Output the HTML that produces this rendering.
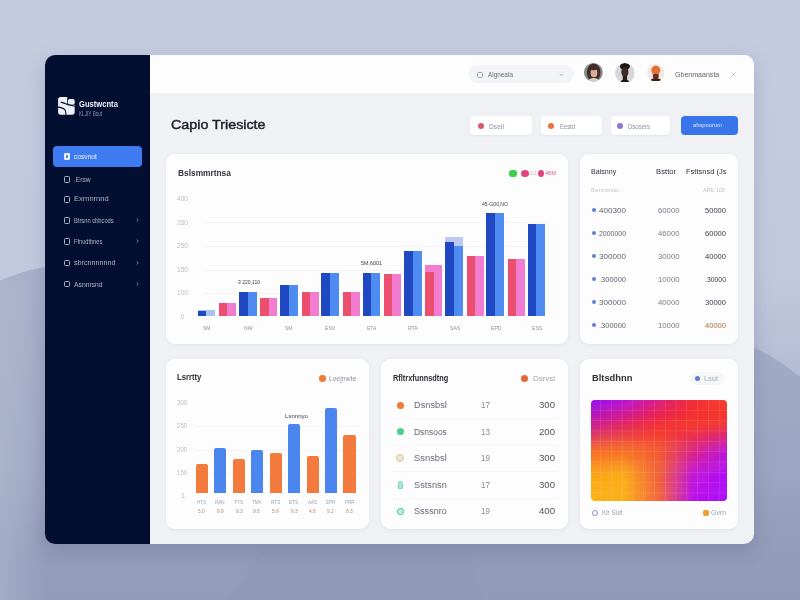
<!DOCTYPE html><html><head><meta charset="utf-8"><style>
*{margin:0;padding:0;box-sizing:border-box}
html,body{width:800px;height:600px;overflow:hidden}
body{font-family:"Liberation Sans",sans-serif;position:relative;background:#c6cce0}
.abs{position:absolute}
.bg{position:absolute;left:0;top:0;width:800px;height:600px;overflow:hidden;
 background:linear-gradient(180deg,#c5cce0 0%,#c3cadf 45%,#aab2cb 75%,#939dba 92%,#909ab7 100%)}
.blobL{position:absolute;left:-120px;top:264px;width:400px;height:400px;border-radius:50%;background:linear-gradient(180deg,#a8b0ca 0%,#a0a9c4 50%,#99a2be 100%)}
.blobR{position:absolute;left:470px;top:329px;width:400px;height:400px;border-radius:50%;background:linear-gradient(180deg,#a2abc6 0%,#9aa3bf 50%,#929cb9 100%)}
.shadow{position:absolute;left:45px;top:55px;width:709px;height:489px;border-radius:10px;box-shadow:0 6px 20px rgba(60,70,110,.22)}
.side{position:absolute;left:45px;top:55px;width:106px;height:489px;background:#030f30;border-radius:10px 0 0 10px}
.main{position:absolute;left:150px;top:55px;width:604px;height:489px;background:#eff1f5;border-radius:0 10px 10px 0;overflow:hidden}
.hdr{position:absolute;left:0;top:0;width:604px;height:38px;background:#fdfdfd}
.card{position:absolute;background:#fdfdfe;border-radius:9px;box-shadow:0 1px 4px rgba(120,130,160,.10)}
.t{position:absolute;white-space:nowrap;line-height:1;transform-origin:0 0}
.mi{position:absolute;left:64px;width:6px;height:6.5px;border:1px solid #c0c7d9;border-radius:1.5px}
.bar{position:absolute}
.dot{position:absolute;border-radius:50%}
</style></head><body>
<div class="bg"><div class="blobL"></div><div class="blobR"></div><div class="abs" style="left:0;top:0;width:800px;height:600px;background:linear-gradient(180deg,rgba(144,154,183,0) 0px,rgba(144,154,183,0) 470px,rgba(144,154,183,.75) 555px,rgba(144,154,183,.8) 600px)"></div><div class="abs" style="left:0;top:280px;width:60px;height:320px;background:linear-gradient(90deg,rgba(178,186,210,.55) 0px,rgba(178,186,210,0) 45px)"></div></div>
<div class="shadow"></div>
<div class="side"></div>
<svg class="abs" style="left:56px;top:95px" width="21" height="22" viewBox="56 95 21 22">
<rect x="58.1" y="97.1" width="16.6" height="17.6" rx="2.6" fill="#eef0f7"/>
<rect x="67.2" y="96" width="9" height="8.7" fill="#030f30"/>
<rect x="67.9" y="98.9" width="6.8" height="5.6" rx="1.8" fill="#eef0f7"/>
<path d="M60.8 102.1 Q64 103 67.5 104.6 L75.2 106.2" stroke="#030f30" stroke-width="1.1" fill="none"/>
<path d="M57.5 107.1 Q63.2 107.4 65.4 110.4 L66.2 115.6" stroke="#030f30" stroke-width="1.1" fill="none"/>
</svg>
<div class="t" id="t0" style="left:79.20px;top:99.68px;font-size:9.2px;font-weight:bold;color:#eef1f7;transform:scaleX(0.8274);">Gustwcnta</div>
<div class="t" id="t1" style="left:79.20px;top:111.38px;font-size:6.4px;color:#8791ab;transform:scaleX(0.7327);">KLJIY Bsut</div>
<div class="abs" style="left:52.5px;top:146px;width:89.5px;height:21px;background:#3e7bf1;border-radius:4px"></div>
<div class="abs" style="left:64px;top:152.7px;width:6.2px;height:6.9px;background:#e8efff;border-radius:1.2px"></div>
<div class="abs" style="left:65.6px;top:154.6px;width:2.4px;height:3px;background:#5a86e6;border-radius:0.5px"></div>
<div class="t" id="t2" style="left:74.00px;top:152.78px;font-size:8px;color:#eef3ff;transform:scaleX(0.8312);">cosvnut</div>
<div class="mi" style="top:176.2px;border-color:#a9b1c6"></div>
<div class="t" id="t3" style="left:74.40px;top:177.08px;font-size:6.8px;color:#aeb6ca;transform:scaleX(0.9825);">.Ersw</div>
<div class="mi" style="top:196.0px;border-color:#a9b1c6"></div>
<div class="t" id="t4" style="left:74.40px;top:196.48px;font-size:6.8px;color:#aeb6ca;transform:scaleX(1.1032);">Exrnnrnnd</div>
<div class="mi" style="top:217.1px;border-color:#a9b1c6"></div>
<div class="t" id="t5" style="left:74.40px;top:217.78px;font-size:6.8px;color:#aeb6ca;transform:scaleX(0.8473);">Btrsnn cbbcods</div>
<svg class="abs" style="left:135.6px;top:218.4px" width="3" height="4" viewBox="0 0 3 4"><path d="M0.6 0.4 L2.3 2 L0.6 3.6" stroke="#8e97b0" stroke-width="0.8" fill="none"/></svg>
<div class="mi" style="top:238.1px;border-color:#a9b1c6"></div>
<div class="t" id="t6" style="left:74.40px;top:238.78px;font-size:6.8px;color:#aeb6ca;transform:scaleX(0.8293);">Ffnudtbnes</div>
<svg class="abs" style="left:135.6px;top:239.4px" width="3" height="4" viewBox="0 0 3 4"><path d="M0.6 0.4 L2.3 2 L0.6 3.6" stroke="#8e97b0" stroke-width="0.8" fill="none"/></svg>
<div class="mi" style="top:259.59999999999997px;border-color:#a9b1c6"></div>
<div class="t" id="t7" style="left:74.40px;top:260.28px;font-size:6.8px;color:#aeb6ca;transform:scaleX(1.0583);">sbrcnnnnnnd</div>
<svg class="abs" style="left:135.6px;top:260.9px" width="3" height="4" viewBox="0 0 3 4"><path d="M0.6 0.4 L2.3 2 L0.6 3.6" stroke="#8e97b0" stroke-width="0.8" fill="none"/></svg>
<div class="mi" style="top:280.7px;border-color:#a9b1c6"></div>
<div class="t" id="t8" style="left:74.40px;top:281.58px;font-size:6.8px;color:#aeb6ca;transform:scaleX(0.9959);">Asnnrsnd</div>
<svg class="abs" style="left:135.6px;top:282px" width="3" height="4" viewBox="0 0 3 4"><path d="M0.6 0.4 L2.3 2 L0.6 3.6" stroke="#8e97b0" stroke-width="0.8" fill="none"/></svg>
<div class="main">
<div class="hdr"></div>
</div>
<div class="abs" style="left:468px;top:65px;width:106px;height:18px;border-radius:9px;background:#f3f4f6"></div>
<div class="abs" style="left:477px;top:71.5px;width:6px;height:6px;border:1px solid #a0a5b0;border-radius:1.5px"></div>
<div class="t" id="t9" style="left:488.00px;top:70.98px;font-size:7px;color:#6d7280;transform:scaleX(0.9047);">Algneata</div>
<svg class="abs" style="left:558.5px;top:72.5px" width="5" height="4" viewBox="0 0 5 4"><path d="M0.7 0.8 L2.5 2.6 L4.3 0.8" stroke="#a8adb8" stroke-width="0.9" fill="none"/></svg>
<svg class="abs" style="left:583.8000000000001px;top:63.300000000000004px" width="18.8" height="18.8" viewBox="-10 -10 20 20"><defs><clipPath id="c593"><circle r="10"/></clipPath></defs><g clip-path="url(#c593)"><rect x="-10" y="-10" width="20" height="20" fill="#86898c"/><ellipse cx="0.3" cy="0" rx="7.2" ry="9.5" fill="#3f2f26"/><ellipse cx="0.3" cy="9" rx="5" ry="3" fill="#cfd6c8"/><ellipse cx="0.6" cy="0.3" rx="3.6" ry="4.8" fill="#dcae9c"/><ellipse cx="0" cy="-4.6" rx="4.6" ry="2.2" fill="#3f2f26"/><ellipse cx="-1" cy="1.5" rx="1" ry="0.8" fill="#d58a80"/></g></svg>
<svg class="abs" style="left:615.1px;top:62.699999999999996px" width="19.8" height="19.8" viewBox="-10 -10 20 20"><defs><clipPath id="c625"><circle r="10"/></clipPath></defs><g clip-path="url(#c625)"><rect x="-10" y="-10" width="20" height="20" fill="#d6d7db"/><ellipse cx="0" cy="-6.5" rx="5" ry="3.5" fill="#1d1714"/><ellipse cx="0" cy="-1" rx="3.6" ry="5" fill="#3d2a22"/><rect x="-2.2" y="3" width="4.4" height="5" fill="#2a211c"/><ellipse cx="0" cy="9" rx="4" ry="2" fill="#141110"/></g></svg>
<svg class="abs" style="left:647.2px;top:63.7px" width="17.6" height="17.6" viewBox="-10 -10 20 20"><defs><clipPath id="c656"><circle r="10"/></clipPath></defs><g clip-path="url(#c656)"><rect x="-10" y="-10" width="20" height="20" fill="#f1e8e4"/><ellipse cx="0" cy="-3" rx="5" ry="5" fill="#e26a2a"/><ellipse cx="0" cy="0" rx="3.8" ry="4.4" fill="#d9763e"/><ellipse cx="0" cy="4" rx="3.4" ry="2.8" fill="#6a2e18"/><ellipse cx="0" cy="9.5" rx="6.5" ry="3.5" fill="#3a2219"/></g></svg>
<div class="t" id="t10" style="left:675.00px;top:70.68px;font-size:7.6px;color:#60646e;transform:scaleX(0.9281);">Gbenmaansta</div>
<svg class="abs" style="left:730.5px;top:71.5px" width="5" height="5" viewBox="0 0 5 5"><path d="M0.6 0.6 L4.4 4.4 M4.4 0.6 L0.6 4.4" stroke="#b4b8c2" stroke-width="0.8" fill="none"/></svg>
<div class="t" id="t11" style="left:171.10px;top:117.87px;font-size:13.4px;color:#1e2029;transform:scaleX(1.0675);-webkit-text-stroke:0.45px #1e2029;">Capio Triesicte</div>
<div class="abs" style="left:470px;top:116px;width:62px;height:19px;background:#fff;border-radius:4px;box-shadow:0 1px 2px rgba(120,130,160,.10)"></div>
<div class="dot" style="left:477.7px;top:122.5px;width:6px;height:6px;background:#d95a6c"></div>
<div class="t" id="t12" style="left:489.00px;top:123.53px;font-size:6.5px;color:#8a8f9c;transform:scaleX(1.0383);">Dsell</div>
<div class="abs" style="left:540.5px;top:116px;width:61px;height:19px;background:#fff;border-radius:4px;box-shadow:0 1px 2px rgba(120,130,160,.10)"></div>
<div class="dot" style="left:547.6px;top:122.5px;width:6px;height:6px;background:#e8723c"></div>
<div class="t" id="t13" style="left:560.00px;top:123.53px;font-size:6.5px;color:#8a8f9c;transform:scaleX(0.9025);">Eestd</div>
<div class="abs" style="left:610.5px;top:116px;width:59px;height:19px;background:#fff;border-radius:4px;box-shadow:0 1px 2px rgba(120,130,160,.10)"></div>
<div class="dot" style="left:616.5px;top:122.5px;width:6px;height:6px;background:#8a74d8"></div>
<div class="t" id="t14" style="left:628.00px;top:123.53px;font-size:6.5px;color:#8a8f9c;transform:scaleX(0.9229);">Dsosers</div>
<div class="abs" style="left:681px;top:115.5px;width:56.5px;height:19.5px;background:#3875ea;border-radius:4px"></div>
<div class="t" id="t15" style="left:693.40px;top:122.38px;font-size:6px;color:#dfe8ff;transform:scaleX(0.9662);">ahspnorum</div>
<div class="card" style="left:166px;top:154px;width:402px;height:190px"></div>
<div class="card" style="left:580px;top:154px;width:158px;height:190px"></div>
<div class="card" style="left:166px;top:358.5px;width:203px;height:170.5px"></div>
<div class="card" style="left:381px;top:358.5px;width:187px;height:170.5px"></div>
<div class="card" style="left:580px;top:358.5px;width:158px;height:170.5px"></div>
<div class="t" id="t16" style="left:177.50px;top:168.73px;font-size:9px;font-weight:bold;color:#34363e;transform:scaleX(0.9278);">Bslsmmrtnsa</div>
<div class="dot" style="left:509px;top:169.5px;width:7.5px;height:7px;border-radius:3px;background:#3ccf4a"></div>
<div class="dot" style="left:521px;top:169.5px;width:7.5px;height:7px;background:#e0457a"></div>
<div class="t" id="t17" style="left:530.00px;top:169.99px;font-size:6px;color:#f0a0c0;transform:scaleX(0.8393);">1/1</div>
<div class="dot" style="left:538px;top:169.5px;width:6px;height:7px;background:#e0457a"></div>
<div class="t" id="t18" style="left:545.00px;top:169.99px;font-size:6px;color:#e46090;transform:scaleX(0.8917);">4BM</div>
<div class="t" id="t19" style="left:177.00px;top:195.53px;font-size:6.5px;color:#b9bdc6;transform:scaleX(1.0144);">400</div>
<div class="t" id="t20" style="left:177.00px;top:219.73px;font-size:6.5px;color:#b9bdc6;transform:scaleX(1.0144);">350</div>
<div class="t" id="t21" style="left:177.00px;top:243.23px;font-size:6.5px;color:#b9bdc6;transform:scaleX(1.0144);">250</div>
<div class="t" id="t22" style="left:177.00px;top:267.23px;font-size:6.5px;color:#b9bdc6;transform:scaleX(1.0144);">150</div>
<div class="t" id="t23" style="left:177.00px;top:290.23px;font-size:6.5px;color:#b9bdc6;transform:scaleX(1.0144);">100</div>
<div class="t" id="t24" style="left:181.08px;top:313.73px;font-size:6.5px;color:#b9bdc6;transform:scaleX(0.8786);">0</div>
<div class="abs" style="left:202px;top:222px;width:348px;height:1px;background:#f2f3f5"></div>
<div class="abs" style="left:202px;top:245.5px;width:348px;height:1px;background:#f2f3f5"></div>
<div class="abs" style="left:202px;top:269.5px;width:348px;height:1px;background:#f2f3f5"></div>
<div class="abs" style="left:202px;top:292.5px;width:348px;height:1px;background:#f2f3f5"></div>
<div class="bar" style="left:197.7px;top:309.7px;width:17.8px;height:6.300000000000011px;background:#a9c3ef"></div>
<div class="bar" style="left:197.7px;top:310.6px;width:8.8px;height:5.399999999999977px;background:#1f48c2"></div>
<div class="bar" style="left:238.95px;top:292px;width:17.8px;height:24px;background:#4f8cf1"></div>
<div class="bar" style="left:238.95px;top:292px;width:8.8px;height:24px;background:#1f48c2"></div>
<div class="bar" style="left:280.2px;top:284.5px;width:17.8px;height:31.5px;background:#4f8cf1"></div>
<div class="bar" style="left:280.2px;top:284.5px;width:8.8px;height:31.5px;background:#1f48c2"></div>
<div class="bar" style="left:321.45px;top:273px;width:17.8px;height:43px;background:#4f8cf1"></div>
<div class="bar" style="left:321.45px;top:273px;width:8.8px;height:43px;background:#1f48c2"></div>
<div class="bar" style="left:362.7px;top:273.3px;width:17.8px;height:42.69999999999999px;background:#4f8cf1"></div>
<div class="bar" style="left:362.7px;top:273.3px;width:8.8px;height:42.69999999999999px;background:#1f48c2"></div>
<div class="bar" style="left:403.95px;top:250.5px;width:17.8px;height:65.5px;background:#4f8cf1"></div>
<div class="bar" style="left:403.95px;top:250.5px;width:8.8px;height:65.5px;background:#1f48c2"></div>
<div class="bar" style="left:445.2px;top:236.7px;width:17.8px;height:79.30000000000001px;background:#bccaf3"></div>
<div class="bar" style="left:445.2px;top:245.7px;width:17.8px;height:70.30000000000001px;background:#4f8cf1"></div>
<div class="bar" style="left:445.2px;top:241.7px;width:8.8px;height:74.30000000000001px;background:#1f48c2"></div>
<div class="bar" style="left:486.45px;top:213px;width:17.8px;height:103px;background:#4f8cf1"></div>
<div class="bar" style="left:486.45px;top:213px;width:8.8px;height:103px;background:#1f48c2"></div>
<div class="bar" style="left:527.7px;top:224px;width:17.8px;height:92px;background:#4f8cf1"></div>
<div class="bar" style="left:527.7px;top:224px;width:8.8px;height:92px;background:#1f48c2"></div>
<div class="bar" style="left:219.1px;top:303.4px;width:17px;height:12.600000000000023px;background:#f27dd0"></div>
<div class="bar" style="left:219.1px;top:303.4px;width:8.4px;height:12.600000000000023px;background:#ec4e6e"></div>
<div class="bar" style="left:260.35px;top:297.5px;width:17px;height:18.5px;background:#f27dd0"></div>
<div class="bar" style="left:260.35px;top:297.5px;width:8.4px;height:18.5px;background:#ec4e6e"></div>
<div class="bar" style="left:301.6px;top:291.5px;width:17px;height:24.5px;background:#f27dd0"></div>
<div class="bar" style="left:301.6px;top:291.5px;width:8.4px;height:24.5px;background:#ec4e6e"></div>
<div class="bar" style="left:342.85px;top:291.75px;width:17px;height:24.25px;background:#f27dd0"></div>
<div class="bar" style="left:342.85px;top:291.75px;width:8.4px;height:24.25px;background:#ec4e6e"></div>
<div class="bar" style="left:384.1px;top:273.8px;width:17px;height:42.19999999999999px;background:#f27dd0"></div>
<div class="bar" style="left:384.1px;top:273.8px;width:8.4px;height:42.19999999999999px;background:#ec4e6e"></div>
<div class="bar" style="left:425.35px;top:264.8px;width:17px;height:51.19999999999999px;background:#f27dd0"></div>
<div class="bar" style="left:425.35px;top:272.4px;width:8.4px;height:43.60000000000002px;background:#ec4e6e"></div>
<div class="bar" style="left:466.6px;top:255.5px;width:17px;height:60.5px;background:#f27dd0"></div>
<div class="bar" style="left:466.6px;top:255.5px;width:8.4px;height:60.5px;background:#ec4e6e"></div>
<div class="bar" style="left:507.85px;top:258.5px;width:17px;height:57.5px;background:#f27dd0"></div>
<div class="bar" style="left:507.85px;top:258.5px;width:8.4px;height:57.5px;background:#ec4e6e"></div>
<div class="t" id="t25" style="left:202.53px;top:324.79px;font-size:6px;color:#8d929e;transform:scaleX(0.8319);">SM</div>
<div class="t" id="t26" style="left:243.65px;top:324.79px;font-size:6px;color:#8d929e;transform:scaleX(0.8531);">NW</div>
<div class="t" id="t27" style="left:285.33px;top:324.79px;font-size:6px;color:#8d929e;transform:scaleX(0.8319);">SM</div>
<div class="t" id="t28" style="left:325.39px;top:324.79px;font-size:6px;color:#8d929e;transform:scaleX(0.8447);">ESV</div>
<div class="t" id="t29" style="left:366.79px;top:324.79px;font-size:6px;color:#8d929e;transform:scaleX(0.8160);">ETA</div>
<div class="t" id="t30" style="left:408.41px;top:324.79px;font-size:6px;color:#8d929e;transform:scaleX(0.8488);">RTA</div>
<div class="t" id="t31" style="left:449.59px;top:324.79px;font-size:6px;color:#8d929e;transform:scaleX(0.8447);">SAS</div>
<div class="t" id="t32" style="left:490.57px;top:324.79px;font-size:6px;color:#8d929e;transform:scaleX(0.8503);">EPD</div>
<div class="t" id="t33" style="left:531.89px;top:324.79px;font-size:6px;color:#8d929e;transform:scaleX(0.8447);">ESS</div>
<div class="t" id="t34" style="left:237.50px;top:279.49px;font-size:6px;color:#3a3e48;transform:scaleX(0.8383);">3 220,110</div>
<div class="t" id="t35" style="left:361.00px;top:259.99px;font-size:6px;color:#3a3e48;transform:scaleX(0.8995);">5M,6001</div>
<div class="t" id="t36" style="left:482.00px;top:200.99px;font-size:6px;color:#3a3e48;transform:scaleX(0.8475);">45-G00,NO</div>
<div class="t" id="t37" style="left:591.30px;top:168.28px;font-size:7px;color:#30333c;transform:scaleX(1.0125);">Balsnny</div>
<div class="t" id="t38" style="left:656.40px;top:168.28px;font-size:7px;color:#30333c;transform:scaleX(1.1002);">Bsttor</div>
<div class="t" id="t39" style="left:685.50px;top:168.28px;font-size:7px;color:#30333c;transform:scaleX(1.0710);">Fsttsnsd (Js</div>
<div class="t" id="t40" style="left:591.30px;top:188.24px;font-size:5.5px;color:#bfc3cc;transform:scaleX(0.9512);">Bsrnnnnnon</div>
<div class="t" id="t41" style="left:703.30px;top:188.24px;font-size:5.5px;color:#bfc3cc;transform:scaleX(0.9859);">ARE 100</div>
<div class="dot" style="left:591.6px;top:207.6px;width:4.8px;height:4.8px;background:#5d7fd4"></div>
<div class="t" id="t42" style="left:599.00px;top:206.58px;font-size:7.8px;color:#62666f;transform:scaleX(1.0375);">400300</div>
<div class="t" id="t43" style="left:657.50px;top:206.58px;font-size:7.8px;color:#7a7e88;transform:scaleX(0.9920);">60000</div>
<div class="t" id="t44" style="left:705.00px;top:206.58px;font-size:7.8px;color:#3a3e48;transform:scaleX(0.9683);">50000</div>
<div class="dot" style="left:591.6px;top:230.6px;width:4.8px;height:4.8px;background:#5d7fd4"></div>
<div class="t" id="t45" style="left:599.00px;top:229.58px;font-size:7.8px;color:#62666f;transform:scaleX(0.8892);">2000000</div>
<div class="t" id="t46" style="left:657.50px;top:229.58px;font-size:7.8px;color:#7a7e88;transform:scaleX(0.9920);">46000</div>
<div class="t" id="t47" style="left:705.00px;top:229.58px;font-size:7.8px;color:#3a3e48;transform:scaleX(0.9683);">60000</div>
<div class="dot" style="left:591.6px;top:253.6px;width:4.8px;height:4.8px;background:#5d7fd4"></div>
<div class="t" id="t48" style="left:599.00px;top:252.58px;font-size:7.8px;color:#62666f;transform:scaleX(1.0375);">300000</div>
<div class="t" id="t49" style="left:657.50px;top:252.58px;font-size:7.8px;color:#7a7e88;transform:scaleX(0.9920);">30000</div>
<div class="t" id="t50" style="left:705.00px;top:252.58px;font-size:7.8px;color:#3a3e48;transform:scaleX(0.9683);">40000</div>
<div class="dot" style="left:591.6px;top:276.6px;width:4.8px;height:4.8px;background:#5d7fd4"></div>
<div class="t" id="t51" style="left:599.00px;top:275.58px;font-size:7.8px;color:#62666f;transform:scaleX(0.9577);">.300000</div>
<div class="t" id="t52" style="left:657.50px;top:275.58px;font-size:7.8px;color:#7a7e88;transform:scaleX(0.9920);">10000</div>
<div class="t" id="t53" style="left:705.00px;top:275.58px;font-size:7.8px;color:#3a3e48;transform:scaleX(0.8803);">.30000</div>
<div class="dot" style="left:591.6px;top:299.6px;width:4.8px;height:4.8px;background:#5d7fd4"></div>
<div class="t" id="t54" style="left:599.00px;top:298.58px;font-size:7.8px;color:#62666f;transform:scaleX(1.0375);">300000</div>
<div class="t" id="t55" style="left:657.50px;top:298.58px;font-size:7.8px;color:#7a7e88;transform:scaleX(0.9920);">40000</div>
<div class="t" id="t56" style="left:705.00px;top:298.58px;font-size:7.8px;color:#3a3e48;transform:scaleX(0.9683);">30000</div>
<div class="dot" style="left:591.6px;top:322.6px;width:4.8px;height:4.8px;background:#5d7fd4"></div>
<div class="t" id="t57" style="left:599.00px;top:321.58px;font-size:7.8px;color:#62666f;transform:scaleX(0.9577);">.300000</div>
<div class="t" id="t58" style="left:657.50px;top:321.58px;font-size:7.8px;color:#7a7e88;transform:scaleX(0.9920);">10000</div>
<div class="t" id="t59" style="left:705.00px;top:321.58px;font-size:7.8px;color:#b0703f;transform:scaleX(0.9683);">40000</div>
<div class="t" id="t60" style="left:177.00px;top:373.38px;font-size:9px;font-weight:bold;color:#2c2e36;transform:scaleX(0.8563);">Lsrrtty</div>
<div class="dot" style="left:318.6px;top:375px;width:7.4px;height:7px;background:#ef7a35"></div>
<div class="t" id="t61" style="left:329.00px;top:376.23px;font-size:6.5px;color:#8d929e;transform:scaleX(1.0647);">Lvejnwte</div>
<div class="t" id="t62" style="left:177.40px;top:399.63px;font-size:6.5px;color:#b9bdc6;transform:scaleX(0.9338);">300</div>
<div class="t" id="t63" style="left:177.40px;top:423.43px;font-size:6.5px;color:#b9bdc6;transform:scaleX(0.9338);">250</div>
<div class="t" id="t64" style="left:177.40px;top:447.23px;font-size:6.5px;color:#b9bdc6;transform:scaleX(0.9338);">200</div>
<div class="t" id="t65" style="left:177.40px;top:470.23px;font-size:6.5px;color:#b9bdc6;transform:scaleX(0.9338);">150</div>
<div class="t" id="t66" style="left:180.78px;top:492.73px;font-size:6.5px;color:#b9bdc6;transform:scaleX(1.0916);">1</div>
<div class="abs" style="left:194px;top:425.9px;width:165px;height:1px;background:#f3f4f6"></div>
<div class="abs" style="left:194px;top:449.5px;width:165px;height:1px;background:#f3f4f6"></div>
<div class="abs" style="left:194px;top:472.5px;width:165px;height:1px;background:#f3f4f6"></div>
<div class="bar" style="left:195.8px;top:463.6px;width:12.2px;height:29.69999999999999px;background:#f27a3c;border-radius:2px 2px 0 0"></div>
<div class="t" id="t67" style="left:197.17px;top:500.24px;font-size:5.5px;color:#a0a5b0;transform:scaleX(0.8266);">HTS</div>
<div class="t" id="t68" style="left:198.38px;top:508.74px;font-size:5.5px;color:#b8876f;transform:scaleX(0.8696);">5.0</div>
<div class="bar" style="left:214.25px;top:448.4px;width:12.2px;height:44.900000000000034px;background:#4a86ee;border-radius:2px 2px 0 0"></div>
<div class="t" id="t69" style="left:215.24px;top:500.24px;font-size:5.5px;color:#a0a5b0;transform:scaleX(0.8282);">RAN</div>
<div class="t" id="t70" style="left:216.73px;top:508.74px;font-size:5.5px;color:#b8876f;transform:scaleX(0.8696);">9.9</div>
<div class="bar" style="left:232.70000000000002px;top:458.7px;width:12.2px;height:34.60000000000002px;background:#f27a3c;border-radius:2px 2px 0 0"></div>
<div class="t" id="t71" style="left:234.26px;top:500.24px;font-size:5.5px;color:#a0a5b0;transform:scaleX(0.8675);">TYS</div>
<div class="t" id="t72" style="left:235.58px;top:508.74px;font-size:5.5px;color:#b8876f;transform:scaleX(0.8696);">9.3</div>
<div class="bar" style="left:251.15px;top:449.5px;width:12.2px;height:43.80000000000001px;background:#4a86ee;border-radius:2px 2px 0 0"></div>
<div class="t" id="t73" style="left:252.45px;top:500.24px;font-size:5.5px;color:#a0a5b0;transform:scaleX(0.8277);">TMA</div>
<div class="t" id="t74" style="left:253.43px;top:508.74px;font-size:5.5px;color:#b8876f;transform:scaleX(0.8696);">9.6</div>
<div class="bar" style="left:269.6px;top:453.3px;width:12.2px;height:40.0px;background:#f27a3c;border-radius:2px 2px 0 0"></div>
<div class="t" id="t75" style="left:271.20px;top:500.24px;font-size:5.5px;color:#a0a5b0;transform:scaleX(0.8553);">RTS</div>
<div class="t" id="t76" style="left:272.28px;top:508.74px;font-size:5.5px;color:#b8876f;transform:scaleX(0.8696);">5.9</div>
<div class="bar" style="left:288.05px;top:424.1px;width:12.2px;height:69.19999999999999px;background:#4a86ee;border-radius:2px 2px 0 0"></div>
<div class="t" id="t77" style="left:289.31px;top:500.24px;font-size:5.5px;color:#a0a5b0;transform:scaleX(0.8675);">ETS</div>
<div class="t" id="t78" style="left:290.63px;top:508.74px;font-size:5.5px;color:#b8876f;transform:scaleX(0.8696);">9.3</div>
<div class="bar" style="left:306.5px;top:455.9px;width:12.2px;height:37.400000000000034px;background:#f27a3c;border-radius:2px 2px 0 0"></div>
<div class="t" id="t79" style="left:307.77px;top:500.24px;font-size:5.5px;color:#a0a5b0;transform:scaleX(0.8275);">AAS</div>
<div class="t" id="t80" style="left:309.48px;top:508.74px;font-size:5.5px;color:#b8876f;transform:scaleX(0.8696);">4.6</div>
<div class="bar" style="left:324.95000000000005px;top:408px;width:12.2px;height:85.30000000000001px;background:#4a86ee;border-radius:2px 2px 0 0"></div>
<div class="t" id="t81" style="left:326.23px;top:500.24px;font-size:5.5px;color:#a0a5b0;transform:scaleX(0.8286);">EPR</div>
<div class="t" id="t82" style="left:327.33px;top:508.74px;font-size:5.5px;color:#b8876f;transform:scaleX(0.8696);">9.2</div>
<div class="bar" style="left:343.4px;top:434.9px;width:12.2px;height:58.400000000000034px;background:#f27a3c;border-radius:2px 2px 0 0"></div>
<div class="t" id="t83" style="left:344.69px;top:500.24px;font-size:5.5px;color:#a0a5b0;transform:scaleX(0.8282);">PRR</div>
<div class="t" id="t84" style="left:346.18px;top:508.74px;font-size:5.5px;color:#b8876f;transform:scaleX(0.8696);">8.3</div>
<div class="t" id="t85" style="left:285.00px;top:412.79px;font-size:6px;color:#3a3e48;transform:scaleX(1.0140);">Lsnnnyo</div>
<div class="t" id="t86" style="left:393.00px;top:373.58px;font-size:9.2px;font-weight:bold;color:#2c2e36;transform:scaleX(0.8032);">Rfltrxfunnsdtng</div>
<div class="dot" style="left:520.7px;top:375px;width:7px;height:7px;background:#e46a35"></div>
<div class="t" id="t87" style="left:532.50px;top:374.98px;font-size:7px;color:#a0a5b0;transform:scaleX(1.1316);">Dsrvsl</div>
<div class="dot" style="left:396.5px;top:401.6px;width:7.4px;height:7.4px;background:#ef7a35"></div>
<div class="t" id="t88" style="left:414.20px;top:401.23px;font-size:8.3px;color:#666a74;transform:scaleX(1.1115);">Dsnsbsl</div>
<div class="t" id="t89" style="left:481.00px;top:401.23px;font-size:8.3px;color:#8a8e98;transform:scaleX(0.9750);">17</div>
<div class="t" id="t90" style="left:538.60px;top:401.23px;font-size:8.3px;color:#50545d;transform:scaleX(1.1555);">300</div>
<div class="abs" style="left:392px;top:418.3px;width:165px;height:1px;background:#f6f7f9"></div>
<div class="dot" style="left:396.5px;top:428.1px;width:7.4px;height:7.4px;background:#4ccf8a"></div>
<div class="t" id="t91" style="left:414.20px;top:427.73px;font-size:8.3px;color:#666a74;transform:scaleX(1.0161);">Dsnsoos</div>
<div class="t" id="t92" style="left:481.00px;top:427.73px;font-size:8.3px;color:#8a8e98;transform:scaleX(0.9750);">13</div>
<div class="t" id="t93" style="left:538.60px;top:427.73px;font-size:8.3px;color:#50545d;transform:scaleX(1.1555);">200</div>
<div class="abs" style="left:392px;top:444.8px;width:165px;height:1px;background:#f6f7f9"></div>
<div class="dot" style="left:396.3px;top:454.40000000000003px;width:7.8px;height:7.8px;background:#efe6d2;border:1.6px solid #d6c4a0"></div>
<div class="t" id="t94" style="left:414.20px;top:454.23px;font-size:8.3px;color:#666a74;transform:scaleX(1.1290);">Ssnsbsl</div>
<div class="t" id="t95" style="left:481.00px;top:454.23px;font-size:8.3px;color:#8a8e98;transform:scaleX(0.9750);">19</div>
<div class="t" id="t96" style="left:538.60px;top:454.23px;font-size:8.3px;color:#50545d;transform:scaleX(1.1555);">300</div>
<div class="abs" style="left:392px;top:471.3px;width:165px;height:1px;background:#f6f7f9"></div>
<div class="abs" style="left:398px;top:481.0px;width:5px;height:7.5px;border-radius:2.5px 2.5px 1px 1px;background:#a6e8da;border:1.2px solid #74d6c2"></div>
<div class="t" id="t97" style="left:414.20px;top:480.73px;font-size:8.3px;color:#666a74;transform:scaleX(1.1113);">Sstsnsn</div>
<div class="t" id="t98" style="left:481.00px;top:480.73px;font-size:8.3px;color:#8a8e98;transform:scaleX(0.9750);">17</div>
<div class="t" id="t99" style="left:538.60px;top:480.73px;font-size:8.3px;color:#50545d;transform:scaleX(1.1555);">300</div>
<div class="abs" style="left:392px;top:497.8px;width:165px;height:1px;background:#f6f7f9"></div>
<div class="dot" style="left:397px;top:507.7px;width:6.6px;height:7px;background:#c0efe2;border:1.5px solid #5ccfae"></div>
<div class="t" id="t100" style="left:414.20px;top:507.23px;font-size:8.3px;color:#666a74;transform:scaleX(1.0944);">Ssssnro</div>
<div class="t" id="t101" style="left:481.00px;top:507.23px;font-size:8.3px;color:#8a8e98;transform:scaleX(0.9750);">19</div>
<div class="t" id="t102" style="left:538.60px;top:507.23px;font-size:8.3px;color:#50545d;transform:scaleX(1.1555);">400</div>
<div class="t" id="t103" style="left:591.50px;top:373.78px;font-size:9px;font-weight:bold;color:#2c2e36;transform:scaleX(1.0363);">Bltsdhnn</div>
<div class="abs" style="left:689.8px;top:371.5px;width:34.8px;height:13.4px;border-radius:7px;background:#f5f6f8"></div>
<div class="dot" style="left:694.7px;top:375.5px;width:5.5px;height:5.5px;background:#6b78d8"></div>
<div class="t" id="t104" style="left:704.00px;top:375.83px;font-size:6.5px;color:#a6abb7;transform:scaleX(1.1396);">Lsut</div>
<svg class="abs" style="left:591px;top:400px" width="136" height="101" viewBox="0 0 136 101"><defs><filter id="hb" x="-10%" y="-10%" width="120%" height="120%"><feGaussianBlur stdDeviation="0 1.6"/></filter><clipPath id="hc"><rect width="136" height="101" rx="4"/></clipPath><linearGradient id="hg0"><stop offset="0%" stop-color="#9010f4"/><stop offset="25%" stop-color="#b810e0"/><stop offset="50%" stop-color="#dc1a80"/><stop offset="75%" stop-color="#f22832"/><stop offset="100%" stop-color="#f73c26"/></linearGradient><linearGradient id="hg1"><stop offset="0%" stop-color="#9511eb"/><stop offset="25%" stop-color="#bb11d3"/><stop offset="50%" stop-color="#de1b78"/><stop offset="75%" stop-color="#f22931"/><stop offset="100%" stop-color="#f63b27"/></linearGradient><linearGradient id="hg2"><stop offset="0%" stop-color="#9f13db"/><stop offset="25%" stop-color="#c315bd"/><stop offset="50%" stop-color="#e21f6b"/><stop offset="75%" stop-color="#f32b2f"/><stop offset="100%" stop-color="#f5392b"/></linearGradient><linearGradient id="hg3"><stop offset="0%" stop-color="#a915cc"/><stop offset="25%" stop-color="#ca18a7"/><stop offset="50%" stop-color="#e6225e"/><stop offset="75%" stop-color="#f32d2e"/><stop offset="100%" stop-color="#f4382e"/></linearGradient><linearGradient id="hg4"><stop offset="0%" stop-color="#b317bc"/><stop offset="25%" stop-color="#d11b91"/><stop offset="50%" stop-color="#ea2550"/><stop offset="75%" stop-color="#f4302d"/><stop offset="100%" stop-color="#f43731"/></linearGradient><linearGradient id="hg5"><stop offset="0%" stop-color="#bd19ad"/><stop offset="25%" stop-color="#d91f7a"/><stop offset="50%" stop-color="#ee2943"/><stop offset="75%" stop-color="#f5322b"/><stop offset="100%" stop-color="#f33535"/></linearGradient><linearGradient id="hg6"><stop offset="0%" stop-color="#c71b9d"/><stop offset="25%" stop-color="#e02264"/><stop offset="50%" stop-color="#f22c36"/><stop offset="75%" stop-color="#f5342a"/><stop offset="100%" stop-color="#f23438"/></linearGradient><linearGradient id="hg7"><stop offset="0%" stop-color="#cf228c"/><stop offset="25%" stop-color="#e52a55"/><stop offset="50%" stop-color="#f43130"/><stop offset="75%" stop-color="#f33431"/><stop offset="100%" stop-color="#ed3148"/></linearGradient><linearGradient id="hg8"><stop offset="0%" stop-color="#d72f79"/><stop offset="25%" stop-color="#e9374d"/><stop offset="50%" stop-color="#f43930"/><stop offset="75%" stop-color="#ee3141"/><stop offset="100%" stop-color="#e42c62"/></linearGradient><linearGradient id="hg9"><stop offset="0%" stop-color="#de3c66"/><stop offset="25%" stop-color="#ec4345"/><stop offset="50%" stop-color="#f44030"/><stop offset="75%" stop-color="#ea2f50"/><stop offset="100%" stop-color="#dc277d"/></linearGradient><linearGradient id="hg10"><stop offset="0%" stop-color="#e54953"/><stop offset="25%" stop-color="#ef503c"/><stop offset="50%" stop-color="#f44730"/><stop offset="75%" stop-color="#e52c5f"/><stop offset="100%" stop-color="#d32298"/></linearGradient><linearGradient id="hg11"><stop offset="0%" stop-color="#ed5641"/><stop offset="25%" stop-color="#f35d34"/><stop offset="50%" stop-color="#f44f30"/><stop offset="75%" stop-color="#e0296f"/><stop offset="100%" stop-color="#ca1db3"/></linearGradient><linearGradient id="hg12"><stop offset="0%" stop-color="#f4632e"/><stop offset="25%" stop-color="#f6692c"/><stop offset="50%" stop-color="#f45630"/><stop offset="75%" stop-color="#dc277e"/><stop offset="100%" stop-color="#c218ce"/></linearGradient><linearGradient id="hg13"><stop offset="0%" stop-color="#f86f24"/><stop offset="25%" stop-color="#f87426"/><stop offset="50%" stop-color="#f35a30"/><stop offset="75%" stop-color="#d8248d"/><stop offset="100%" stop-color="#bc15de"/></linearGradient><linearGradient id="hg14"><stop offset="0%" stop-color="#f87922"/><stop offset="25%" stop-color="#f87e24"/><stop offset="50%" stop-color="#f35b32"/><stop offset="75%" stop-color="#d4219b"/><stop offset="100%" stop-color="#ba14e2"/></linearGradient><linearGradient id="hg15"><stop offset="0%" stop-color="#f98320"/><stop offset="25%" stop-color="#f98821"/><stop offset="50%" stop-color="#f35c34"/><stop offset="75%" stop-color="#d01ea9"/><stop offset="100%" stop-color="#b712e7"/></linearGradient><linearGradient id="hg16"><stop offset="0%" stop-color="#f98e1e"/><stop offset="25%" stop-color="#f9921e"/><stop offset="50%" stop-color="#f25d35"/><stop offset="75%" stop-color="#cc1bb7"/><stop offset="100%" stop-color="#b411ec"/></linearGradient><linearGradient id="hg17"><stop offset="0%" stop-color="#fa981c"/><stop offset="25%" stop-color="#fa9c1c"/><stop offset="50%" stop-color="#f25e37"/><stop offset="75%" stop-color="#c818c6"/><stop offset="100%" stop-color="#b210f0"/></linearGradient><linearGradient id="hg18"><stop offset="0%" stop-color="#faa21a"/><stop offset="25%" stop-color="#faa619"/><stop offset="50%" stop-color="#f25f39"/><stop offset="75%" stop-color="#c415d4"/><stop offset="100%" stop-color="#af0ef5"/></linearGradient><linearGradient id="hg19"><stop offset="0%" stop-color="#fba819"/><stop offset="25%" stop-color="#fbac18"/><stop offset="50%" stop-color="#f2603a"/><stop offset="75%" stop-color="#c113dd"/><stop offset="100%" stop-color="#ad0ef8"/></linearGradient><linearGradient id="hg20"><stop offset="0%" stop-color="#fbaa19"/><stop offset="25%" stop-color="#fbac18"/><stop offset="50%" stop-color="#f2613a"/><stop offset="75%" stop-color="#c013e0"/><stop offset="100%" stop-color="#ac0ef9"/></linearGradient><linearGradient id="hg21"><stop offset="0%" stop-color="#fbac18"/><stop offset="25%" stop-color="#fbad18"/><stop offset="50%" stop-color="#f2623a"/><stop offset="75%" stop-color="#be12e3"/><stop offset="100%" stop-color="#ab0efa"/></linearGradient><linearGradient id="hg22"><stop offset="0%" stop-color="#fbae17"/><stop offset="25%" stop-color="#fbae18"/><stop offset="50%" stop-color="#f3633a"/><stop offset="75%" stop-color="#bd11e6"/><stop offset="100%" stop-color="#aa0efc"/></linearGradient><linearGradient id="hg23"><stop offset="0%" stop-color="#fbb017"/><stop offset="25%" stop-color="#fbae18"/><stop offset="50%" stop-color="#f3643a"/><stop offset="75%" stop-color="#bc11e9"/><stop offset="100%" stop-color="#a90efd"/></linearGradient><linearGradient id="hg24"><stop offset="0%" stop-color="#fbb216"/><stop offset="25%" stop-color="#fbaf18"/><stop offset="50%" stop-color="#f3653a"/><stop offset="75%" stop-color="#ba10ec"/><stop offset="100%" stop-color="#a80efe"/></linearGradient><linearGradient id="hg25"><stop offset="0%" stop-color="#fcb416"/><stop offset="25%" stop-color="#fbb018"/><stop offset="50%" stop-color="#f4663a"/><stop offset="75%" stop-color="#ba10ee"/><stop offset="100%" stop-color="#a80eff"/></linearGradient></defs><g clip-path="url(#hc)"><g filter="url(#hb)"><rect x="-2" y="-4.00" width="140" height="4.59" fill="url(#hg0)"/><rect x="-2" y="0.19" width="140" height="4.59" fill="url(#hg1)"/><rect x="-2" y="4.38" width="140" height="4.59" fill="url(#hg2)"/><rect x="-2" y="8.58" width="140" height="4.59" fill="url(#hg3)"/><rect x="-2" y="12.77" width="140" height="4.59" fill="url(#hg4)"/><rect x="-2" y="16.96" width="140" height="4.59" fill="url(#hg5)"/><rect x="-2" y="21.15" width="140" height="4.59" fill="url(#hg6)"/><rect x="-2" y="25.35" width="140" height="4.59" fill="url(#hg7)"/><rect x="-2" y="29.54" width="140" height="4.59" fill="url(#hg8)"/><rect x="-2" y="33.73" width="140" height="4.59" fill="url(#hg9)"/><rect x="-2" y="37.92" width="140" height="4.59" fill="url(#hg10)"/><rect x="-2" y="42.12" width="140" height="4.59" fill="url(#hg11)"/><rect x="-2" y="46.31" width="140" height="4.59" fill="url(#hg12)"/><rect x="-2" y="50.50" width="140" height="4.59" fill="url(#hg13)"/><rect x="-2" y="54.69" width="140" height="4.59" fill="url(#hg14)"/><rect x="-2" y="58.88" width="140" height="4.59" fill="url(#hg15)"/><rect x="-2" y="63.08" width="140" height="4.59" fill="url(#hg16)"/><rect x="-2" y="67.27" width="140" height="4.59" fill="url(#hg17)"/><rect x="-2" y="71.46" width="140" height="4.59" fill="url(#hg18)"/><rect x="-2" y="75.65" width="140" height="4.59" fill="url(#hg19)"/><rect x="-2" y="79.85" width="140" height="4.59" fill="url(#hg20)"/><rect x="-2" y="84.04" width="140" height="4.59" fill="url(#hg21)"/><rect x="-2" y="88.23" width="140" height="4.59" fill="url(#hg22)"/><rect x="-2" y="92.42" width="140" height="4.59" fill="url(#hg23)"/><rect x="-2" y="96.62" width="140" height="4.59" fill="url(#hg24)"/><rect x="-2" y="100.81" width="140" height="4.59" fill="url(#hg25)"/></g><rect x="9.1" y="0" width="0.7" height="101" fill="#fff" opacity=".16"/><rect x="19.9" y="0" width="0.7" height="101" fill="#fff" opacity=".16"/><rect x="30.7" y="0" width="0.7" height="101" fill="#fff" opacity=".16"/><rect x="41.5" y="0" width="0.7" height="101" fill="#fff" opacity=".16"/><rect x="52.3" y="0" width="0.7" height="101" fill="#fff" opacity=".16"/><rect x="63.1" y="0" width="0.7" height="101" fill="#fff" opacity=".16"/><rect x="73.9" y="0" width="0.7" height="101" fill="#fff" opacity=".16"/><rect x="84.7" y="0" width="0.7" height="101" fill="#fff" opacity=".16"/><rect x="95.5" y="0" width="0.7" height="101" fill="#fff" opacity=".16"/><rect x="106.3" y="0" width="0.7" height="101" fill="#fff" opacity=".16"/><rect x="117.1" y="0" width="0.7" height="101" fill="#fff" opacity=".16"/><rect x="127.9" y="0" width="0.7" height="101" fill="#fff" opacity=".16"/><rect x="0" y="9.9" width="136" height="0.7" fill="#fff" opacity=".14"/><rect x="0" y="20.2" width="136" height="0.7" fill="#fff" opacity=".14"/><rect x="0" y="30.6" width="136" height="0.7" fill="#fff" opacity=".14"/><rect x="0" y="40.9" width="136" height="0.7" fill="#fff" opacity=".14"/><rect x="0" y="51.3" width="136" height="0.7" fill="#fff" opacity=".14"/><rect x="0" y="61.6" width="136" height="0.7" fill="#fff" opacity=".14"/><rect x="0" y="72.0" width="136" height="0.7" fill="#fff" opacity=".14"/><rect x="0" y="82.4" width="136" height="0.7" fill="#fff" opacity=".14"/><rect x="0" y="92.7" width="136" height="0.7" fill="#fff" opacity=".14"/></g></svg>
<div class="dot" style="left:591.8px;top:509.6px;width:6px;height:6px;border:1.2px solid #8c8fd8;background:transparent"></div>
<div class="t" id="t105" style="left:601.60px;top:510.23px;font-size:6.5px;color:#9ca1ac;transform:scaleX(0.9697);">Klr Sult</div>
<div class="dot" style="left:703.4px;top:509.5px;width:6px;height:6px;border-radius:2px;background:#f0a030"></div>
<div class="t" id="t106" style="left:711.00px;top:510.23px;font-size:6.5px;color:#9ca1ac;transform:scaleX(1.0650);">Gvrn</div>
</body></html>
